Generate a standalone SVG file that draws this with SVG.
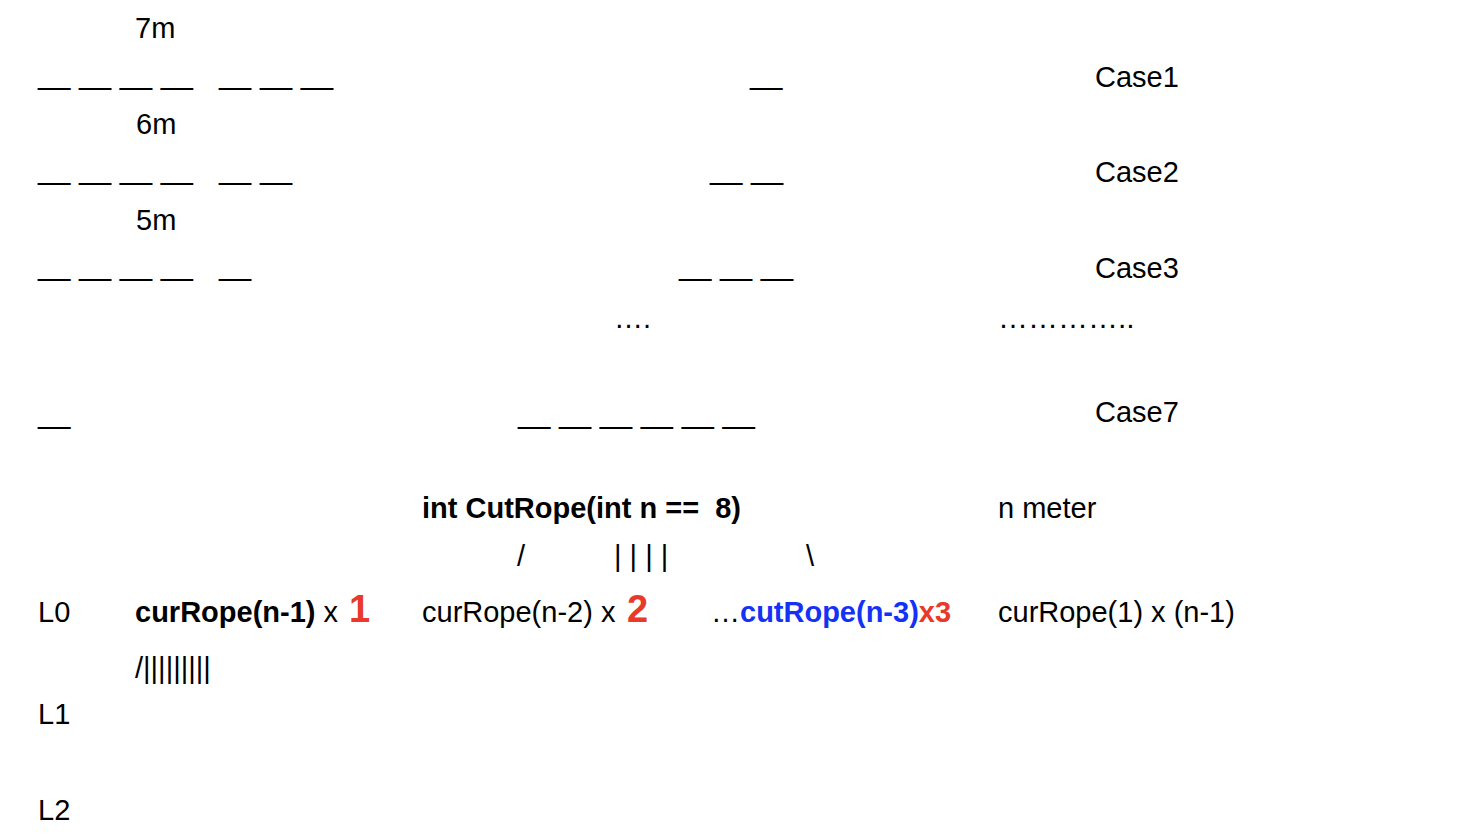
<svg xmlns="http://www.w3.org/2000/svg" width="1478" height="836" viewBox="0 0 1478 836">
<style>
text{font-family:"Liberation Sans",Arial,sans-serif;font-size:29px;fill:#000;white-space:pre}
.d{word-spacing:0.6px}
.b{font-weight:bold}
.red{fill:#e8392a;font-weight:bold}
.blue{fill:#1432f5;font-weight:bold}
.big{font-size:38px}
</style>
<rect width="1478" height="836" fill="#fff"/>
<g id="case1">
<text x="135" y="38">7m</text>
<text x="38" y="84" class="d">__ __ __ __   __ __ __</text>
<text x="750" y="84">__</text>
<text x="1095" y="87">Case1</text>
</g>
<g id="case2">
<text x="136" y="134">6m</text>
<text x="38" y="179" class="d">__ __ __ __   __ __</text>
<text x="710" y="179" class="d">__ __</text>
<text x="1095" y="182">Case2</text>
</g>
<g id="case3">
<text x="136" y="230">5m</text>
<text x="38" y="275" class="d">__ __ __ __   __</text>
<text x="679" y="275" class="d">__ __ __</text>
<text x="1095" y="278">Case3</text>
</g>
<g id="dots">
<text x="614" y="328">….</text>
<text x="998" y="328" style="font-size:30px">…………..</text>
</g>
<g id="case7">
<text x="38" y="423">__</text>
<text x="518" y="423" class="d">__ __ __ __ __ __</text>
<text x="1095" y="422">Case7</text>
</g>
<g id="root">
<text x="422" y="518" class="b">int CutRope(int n ==  8)</text>
<text x="998" y="518">n meter</text>
<text x="517" y="566">/</text>
<text x="614" y="566">| | | |</text>
<text x="806" y="566">\</text>
</g>
<g id="level0">
<text x="38" y="622">L0</text>
<text x="135" y="622"><tspan class="b">curRope(n-1)</tspan> x <tspan class="red big" x="349">1</tspan></text>
<text x="422" y="622">curRope(n-2) x <tspan class="red big" x="627">2</tspan></text>
<text x="711" y="622">…<tspan class="blue">cutRope(n-3)</tspan><tspan class="red">x3</tspan></text>
<text x="998" y="622">curRope(1) x (n-1)</text>
<text x="135" y="678">/|||||||||</text>
</g>
<g id="levels">
<text x="38" y="724">L1</text>
<text x="38" y="820">L2</text>
</g>
</svg>
